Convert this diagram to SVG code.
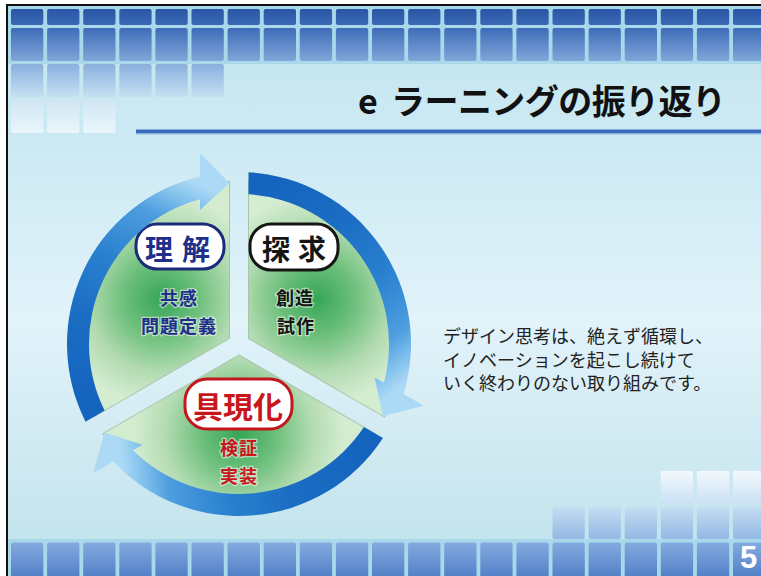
<svg xmlns="http://www.w3.org/2000/svg" width="761" height="576" viewBox="0 0 761 576">
<defs>
<style>
.jp{font-family:"Noto Sans CJK JP","Noto Sans CJK SC",sans-serif}
.b{font-weight:bold}
.r1{fill:url(#gr1)}.r2{fill:url(#gr2)}.r3{fill:url(#gr3)}.r4{fill:url(#gr4)}
.rb1{fill:url(#grb1)}.rb2{fill:url(#grb2)}.rb3{fill:url(#grb3)}
.sector{fill:url(#green);stroke:#a9c4ac;stroke-width:1}
.arrow{fill:url(#ring)}
.box{fill:#ffffff;stroke-width:3}
.sub{font-size:18px;letter-spacing:1px;text-anchor:middle;stroke:#ffffff;stroke-width:2.5;stroke-opacity:0.55;paint-order:stroke}
</style>
<linearGradient id="bg" x1="0" y1="0" x2="0" y2="1">
<stop offset="0" stop-color="#c2e5ee"/><stop offset="0.25" stop-color="#cdeaf3"/><stop offset="0.55" stop-color="#e2f3fa"/><stop offset="0.8" stop-color="#cfe9f1"/><stop offset="1" stop-color="#bde2eb"/>
</linearGradient>
<linearGradient id="gr1" x1="0" y1="0" x2="0" y2="1"><stop offset="0" stop-color="#2a57a5"/><stop offset="1" stop-color="#3a68b5"/></linearGradient>
<linearGradient id="gr2" x1="0" y1="0" x2="0" y2="1"><stop offset="0" stop-color="#3e6cb8"/><stop offset="1" stop-color="#80a7d9"/></linearGradient>
<linearGradient id="gr3" x1="0" y1="0" x2="0" y2="1"><stop offset="0" stop-color="#89b0dd"/><stop offset="1" stop-color="#c5e0f1"/></linearGradient>
<linearGradient id="gr4" x1="0" y1="0" x2="0" y2="1"><stop offset="0" stop-color="#d0e6f3"/><stop offset="1" stop-color="#ebf6fc"/></linearGradient>
<linearGradient id="grb1" x1="0" y1="0" x2="0" y2="1"><stop offset="0" stop-color="#84abdf"/><stop offset="1" stop-color="#4a79c4"/></linearGradient>
<linearGradient id="grb2" x1="0" y1="0" x2="0" y2="1"><stop offset="0" stop-color="#c4ddf1"/><stop offset="1" stop-color="#93b8e4"/></linearGradient>
<linearGradient id="grb3" x1="0" y1="0" x2="0" y2="1"><stop offset="0" stop-color="#f3f9fd"/><stop offset="1" stop-color="#c9e0f3"/></linearGradient>
<radialGradient id="green" gradientUnits="userSpaceOnUse" cx="161" cy="299" r="105">
<stop offset="0" stop-color="#36a656"/><stop offset="0.35" stop-color="#6cbf7b"/><stop offset="0.7" stop-color="#b2dbb1"/><stop offset="1" stop-color="#d4ecd0"/>
</radialGradient>
<linearGradient id="ring" gradientUnits="userSpaceOnUse" x1="95" y1="416" x2="200" y2="185">
<stop offset="0" stop-color="#1463bd"/><stop offset="0.35" stop-color="#1b6ec4"/><stop offset="0.6" stop-color="#2a81cf"/><stop offset="0.82" stop-color="#4d9ddf"/><stop offset="0.93" stop-color="#86c4ee"/><stop offset="1" stop-color="#acd9f5"/>
</linearGradient>
</defs>

<!-- frame and background -->
<rect x="0" y="0" width="761" height="576" fill="#ffffff"/>
<rect x="8" y="6" width="753" height="570" fill="url(#bg)"/>
<rect x="8" y="6" width="753" height="58" fill="#a9d8ea"/>
<rect x="8" y="539" width="753" height="37" fill="#a9d8ea"/>
<path d="M7 576 V5 H761" fill="none" stroke="#111111" stroke-width="2"/>

<!-- top tiles -->
<g id="tiles-top">
<g class="r1">
<rect x="11" y="9" width="32.3" height="16" rx="2"/><rect x="47.1" y="9" width="32.3" height="16" rx="2"/><rect x="83.2" y="9" width="32.3" height="16" rx="2"/><rect x="119.3" y="9" width="32.3" height="16" rx="2"/><rect x="155.4" y="9" width="32.3" height="16" rx="2"/><rect x="191.5" y="9" width="32.3" height="16" rx="2"/><rect x="227.6" y="9" width="32.3" height="16" rx="2"/><rect x="263.7" y="9" width="32.3" height="16" rx="2"/><rect x="299.8" y="9" width="32.3" height="16" rx="2"/><rect x="335.9" y="9" width="32.3" height="16" rx="2"/><rect x="372" y="9" width="32.3" height="16" rx="2"/><rect x="408.1" y="9" width="32.3" height="16" rx="2"/><rect x="444.2" y="9" width="32.3" height="16" rx="2"/><rect x="480.3" y="9" width="32.3" height="16" rx="2"/><rect x="516.4" y="9" width="32.3" height="16" rx="2"/><rect x="552.5" y="9" width="32.3" height="16" rx="2"/><rect x="588.6" y="9" width="32.3" height="16" rx="2"/><rect x="624.7" y="9" width="32.3" height="16" rx="2"/><rect x="660.8" y="9" width="32.3" height="16" rx="2"/><rect x="696.9" y="9" width="32.3" height="16" rx="2"/><rect x="733" y="9" width="32.3" height="16" rx="2"/>
</g>
<g class="r2">
<rect x="11" y="28" width="32.3" height="33" rx="2"/><rect x="47.1" y="28" width="32.3" height="33" rx="2"/><rect x="83.2" y="28" width="32.3" height="33" rx="2"/><rect x="119.3" y="28" width="32.3" height="33" rx="2"/><rect x="155.4" y="28" width="32.3" height="33" rx="2"/><rect x="191.5" y="28" width="32.3" height="33" rx="2"/><rect x="227.6" y="28" width="32.3" height="33" rx="2"/><rect x="263.7" y="28" width="32.3" height="33" rx="2"/><rect x="299.8" y="28" width="32.3" height="33" rx="2"/><rect x="335.9" y="28" width="32.3" height="33" rx="2"/><rect x="372" y="28" width="32.3" height="33" rx="2"/><rect x="408.1" y="28" width="32.3" height="33" rx="2"/><rect x="444.2" y="28" width="32.3" height="33" rx="2"/><rect x="480.3" y="28" width="32.3" height="33" rx="2"/><rect x="516.4" y="28" width="32.3" height="33" rx="2"/><rect x="552.5" y="28" width="32.3" height="33" rx="2"/><rect x="588.6" y="28" width="32.3" height="33" rx="2"/><rect x="624.7" y="28" width="32.3" height="33" rx="2"/><rect x="660.8" y="28" width="32.3" height="33" rx="2"/><rect x="696.9" y="28" width="32.3" height="33" rx="2"/><rect x="733" y="28" width="32.3" height="33" rx="2"/>
</g>
<g class="r3">
<rect x="11" y="64" width="32.3" height="33" rx="2"/><rect x="47.1" y="64" width="32.3" height="33" rx="2"/><rect x="83.2" y="64" width="32.3" height="33" rx="2"/><rect x="119.3" y="64" width="32.3" height="33" rx="2"/><rect x="155.4" y="64" width="32.3" height="33" rx="2"/><rect x="191.5" y="64" width="32.3" height="33" rx="2"/>
</g>
<g class="r4">
<rect x="11" y="100" width="32.3" height="33" rx="2"/><rect x="47.1" y="100" width="32.3" height="33" rx="2"/><rect x="83.2" y="100" width="32.3" height="33" rx="2"/>
</g>
</g>

<!-- bottom tiles -->
<g id="tiles-bottom">
<g class="rb3">
<rect x="660.8" y="471" width="32.3" height="33" rx="2"/><rect x="696.9" y="471" width="32.3" height="33" rx="2"/><rect x="733" y="471" width="32.3" height="33" rx="2"/>
</g>
<g class="rb2">
<rect x="552.5" y="507" width="32.3" height="32" rx="2"/><rect x="588.6" y="507" width="32.3" height="32" rx="2"/><rect x="624.7" y="507" width="32.3" height="32" rx="2"/><rect x="660.8" y="507" width="32.3" height="32" rx="2"/><rect x="696.9" y="507" width="32.3" height="32" rx="2"/><rect x="733" y="507" width="32.3" height="32" rx="2"/>
</g>
<g class="rb1">
<rect x="11" y="542.5" width="32.3" height="40" rx="2"/><rect x="47.1" y="542.5" width="32.3" height="40" rx="2"/><rect x="83.2" y="542.5" width="32.3" height="40" rx="2"/><rect x="119.3" y="542.5" width="32.3" height="40" rx="2"/><rect x="155.4" y="542.5" width="32.3" height="40" rx="2"/><rect x="191.5" y="542.5" width="32.3" height="40" rx="2"/><rect x="227.6" y="542.5" width="32.3" height="40" rx="2"/><rect x="263.7" y="542.5" width="32.3" height="40" rx="2"/><rect x="299.8" y="542.5" width="32.3" height="40" rx="2"/><rect x="335.9" y="542.5" width="32.3" height="40" rx="2"/><rect x="372" y="542.5" width="32.3" height="40" rx="2"/><rect x="408.1" y="542.5" width="32.3" height="40" rx="2"/><rect x="444.2" y="542.5" width="32.3" height="40" rx="2"/><rect x="480.3" y="542.5" width="32.3" height="40" rx="2"/><rect x="516.4" y="542.5" width="32.3" height="40" rx="2"/><rect x="552.5" y="542.5" width="32.3" height="40" rx="2"/><rect x="588.6" y="542.5" width="32.3" height="40" rx="2"/><rect x="624.7" y="542.5" width="32.3" height="40" rx="2"/><rect x="660.8" y="542.5" width="32.3" height="40" rx="2"/><rect x="696.9" y="542.5" width="32.3" height="40" rx="2"/><rect x="733" y="542.5" width="32.3" height="40" rx="2"/>
</g>
<text x="740" y="568" font-family="'Liberation Sans',Arial,sans-serif" font-weight="bold" font-size="31" fill="#ffffff">5</text>
</g>

<!-- title -->
<g id="title">
<text class="jp b" y="114" font-size="34" fill="#111111"><tspan x="358">e</tspan><tspan x="391" textLength="335">ラーニングの振り返り</tspan></text>
<rect x="136" y="129.5" width="625" height="3.5" fill="#3b69bb"/>
<rect x="136" y="133" width="625" height="1.5" fill="#8fb3e0"/>
</g>

<!-- nodes -->
<g id="node-rikai">
<path class="sector" d="M229.5 338.5 L93.33 417.13 A163 163 0 0 1 229.5 181.28 Z"/>
<rect class="box" x="136" y="224" width="88" height="45" rx="21" stroke="#1b2a7b"/>
<text class="jp b" x="145 182" y="260" font-size="28" fill="#1f2f8a">理解</text>
<text class="jp b sub" x="179" y="305" fill="#1f2f8a">共感</text>
<text class="jp b sub" x="179" y="333" fill="#1f2f8a">問題定義</text>
</g>
<g id="node-tankyu">
<path class="sector" transform="rotate(120 239 344)" d="M229.5 338.5 L93.33 417.13 A163 163 0 0 1 229.5 181.28 Z"/>
<rect class="box" x="250" y="224" width="88" height="46" rx="21" stroke="#151515"/>
<text class="jp b" x="262 298" y="260" font-size="28" fill="#151515">探求</text>
<text class="jp b sub" x="295" y="305" fill="#151515">創造</text>
<text class="jp b sub" x="296" y="333" fill="#151515">試作</text>
</g>
<g id="node-gugenka">
<path class="sector" transform="rotate(240 239 344)" d="M229.5 338.5 L93.33 417.13 A163 163 0 0 1 229.5 181.28 Z"/>
<rect class="box" x="185" y="379" width="107" height="50" rx="22" stroke="#c3161f"/>
<text class="jp b" x="193" y="418" font-size="30" fill="#c8161d">具現化</text>
<text class="jp b sub" x="239" y="455" font-size="19" fill="#c8161d">検証</text>
<text class="jp b sub" x="239" y="483" font-size="19" fill="#c8161d">実装</text>
</g>

<!-- connectors (cycle arrows) -->
<g id="connectors">
<path class="arrow" d="M85.52 421.64 A172 172 0 0 1 200 176.48 L200 153 L229.5 183.3 L200 210 L200 199.16 A150 150 0 0 0 104.61 410.62 Z"/>
<path class="arrow" transform="rotate(120 239 344)" d="M85.52 421.64 A172 172 0 0 1 200 176.48 L200 153 L229.5 183.3 L200 210 L200 199.16 A150 150 0 0 0 104.61 410.62 Z"/>
<path class="arrow" transform="rotate(240 239 344)" d="M85.52 421.64 A172 172 0 0 1 200 176.48 L200 153 L229.5 183.3 L200 210 L200 199.16 A150 150 0 0 0 104.61 410.62 Z"/>
</g>

<!-- description -->
<g id="description">
<text class="jp" font-size="18" fill="#222222">
<tspan x="443" y="343">デザイン思考は、絶えず循環し、</tspan>
<tspan x="443" y="366.5">イノベーションを起こし続けて</tspan>
<tspan x="443" y="390">いく終わりのない取り組みです。</tspan>
</text>
</g>
</svg>
